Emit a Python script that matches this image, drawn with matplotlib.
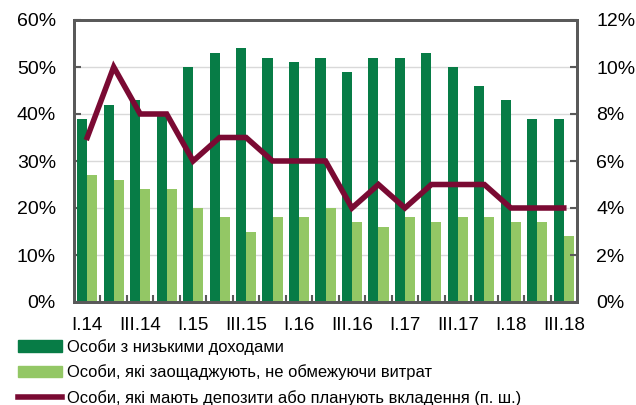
import numpy as np
import matplotlib.pyplot as plt
from matplotlib.patches import Patch
from matplotlib.lines import Line2D
from matplotlib.ticker import FuncFormatter

plt.rcParams['font.family'] = ['Liberation Sans', 'DejaVu Sans']

quarters = ['I.14', 'II.14', 'III.14', 'IV.14', 'I.15', 'II.15', 'III.15', 'IV.15',
            'I.16', 'II.16', 'III.16', 'IV.16', 'I.17', 'II.17', 'III.17', 'IV.17',
            'I.18', 'II.18', 'III.18']
low_income = [39, 42, 43, 40, 50, 53, 54, 52, 51, 52, 49, 52, 52, 53, 50, 46, 43, 39, 39]
save_no_limit = [27, 26, 24, 24, 20, 18, 15, 18, 18, 20, 17, 16, 18, 17, 18, 18, 17, 17, 14]
deposits = [7, 10, 8, 8, 6, 7, 7, 6, 6, 6, 4, 5, 4, 5, 5, 5, 4, 4, 4]

labels = ['Особи з низькими доходами',
          'Особи, які заощаджують, не обмежуючи витрат',
          'Особи, які мають депозити або планують вкладення (п. ш.)']

dark_green = '#077C46'
light_green = '#93C765'
maroon = '#7A0A33'
spine_col = '#595959'

x = np.arange(len(quarters))
w = 0.38

fig = plt.figure(figsize=(6.36, 4.05), dpi=100)
ax = fig.add_axes([74/636, 1-302/405, 503/636, 282/405])
ax.bar(x - w/2, low_income, width=w, color=dark_green, zorder=2)
ax.bar(x + w/2, save_no_limit, width=w, color=light_green, zorder=2)
ax.set_xlim(-0.5, len(quarters) - 0.5)
ax.set_ylim(0, 60)
ax.set_yticks(range(0, 61, 10))
ax.yaxis.set_major_formatter(FuncFormatter(lambda v, p: f'{v:.0f}%'))
ax.grid(axis='y', color='#D9D9D9', lw=1, zorder=0)
ax.set_axisbelow(True)

ax.set_xticks(x[::2])
ax.set_xticklabels(quarters[::2], family=['Liberation Sans Narrow', 'Liberation Sans'],
                   fontsize=13.5)
ax.set_xticks(np.arange(0.5, len(quarters) - 1, 1), minor=True)
ax.tick_params(axis='x', which='major', length=0, pad=11)
ax.tick_params(axis='x', which='minor', length=5, direction='in', color=spine_col, width=1.5)
ax.tick_params(axis='y', length=5, direction='in', color=spine_col, width=1.5, labelsize=14, pad=13)

ax2 = ax.twinx()
ax2.plot(x, deposits, color=maroon, lw=4, solid_joinstyle='miter', zorder=3)
ax2.set_ylim(0, 12)
ax2.set_yticks(range(0, 13, 2))
ax2.yaxis.set_major_formatter(FuncFormatter(lambda v, p: f'{v:.0f}%'))
ax2.tick_params(axis='y', length=5, direction='in', color=spine_col, width=1.5, labelsize=14, pad=14)

for a in (ax, ax2):
    for s in a.spines.values():
        s.set_color(spine_col)
        s.set_linewidth(2)

handles = [Patch(color=dark_green), Patch(color=light_green),
           Line2D([], [], color=maroon, lw=4)]
fig.legend(handles, labels, loc='upper left', bbox_to_anchor=(0.028, 0.163),
           frameon=False, fontsize=11.9, handlelength=2.7, handletextpad=0.3,
           labelspacing=0.58, borderpad=0, borderaxespad=0)

fig.savefig('out.png', dpi=100)
